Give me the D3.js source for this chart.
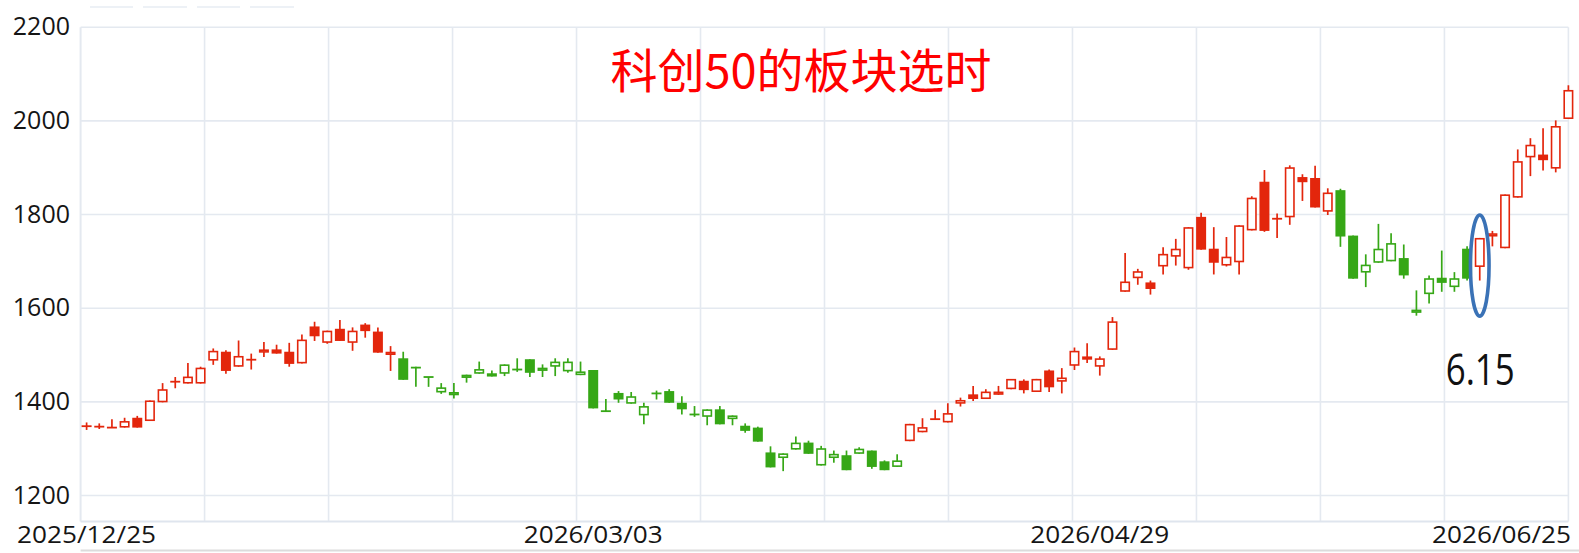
<!DOCTYPE html>
<html><head><meta charset="utf-8">
<script src="https://cdn.jsdelivr.net/npm/d3@7/dist/d3.min.js"></script>
<style>html,body{margin:0;padding:0;background:#fff;overflow:hidden}</style>
</head><body>
<svg id="chart" width="1579" height="553"></svg>
<script>
// ---------------- data ----------------
const dates = [
 "2025/12/25","2025/12/26","2025/12/29","2025/12/30","2025/12/31",
 "2026/01/05","2026/01/06","2026/01/07","2026/01/08","2026/01/09",
 "2026/01/12","2026/01/13","2026/01/14","2026/01/15","2026/01/16",
 "2026/01/19","2026/01/20","2026/01/21","2026/01/22","2026/01/23",
 "2026/01/26","2026/01/27","2026/01/28","2026/01/29","2026/01/30",
 "2026/02/02","2026/02/03","2026/02/04","2026/02/05","2026/02/06",
 "2026/02/09","2026/02/10","2026/02/11","2026/02/12","2026/02/13",
 "2026/02/24","2026/02/25","2026/02/26","2026/02/27",
 "2026/03/02","2026/03/03","2026/03/04","2026/03/05","2026/03/06",
 "2026/03/09","2026/03/10","2026/03/11","2026/03/12","2026/03/13",
 "2026/03/16","2026/03/17","2026/03/18","2026/03/19","2026/03/20",
 "2026/03/23","2026/03/24","2026/03/25","2026/03/26","2026/03/27",
 "2026/03/30","2026/03/31",
 "2026/04/01","2026/04/02","2026/04/03",
 "2026/04/07","2026/04/08","2026/04/09","2026/04/10",
 "2026/04/13","2026/04/14","2026/04/15","2026/04/16","2026/04/17",
 "2026/04/20","2026/04/21","2026/04/22","2026/04/23","2026/04/24",
 "2026/04/27","2026/04/28","2026/04/29","2026/04/30",
 "2026/05/06","2026/05/07","2026/05/08",
 "2026/05/11","2026/05/12","2026/05/13","2026/05/14","2026/05/15",
 "2026/05/18","2026/05/19","2026/05/20","2026/05/21","2026/05/22",
 "2026/05/25","2026/05/26","2026/05/27","2026/05/28","2026/05/29",
 "2026/06/01","2026/06/02","2026/06/03","2026/06/04","2026/06/05",
 "2026/06/08","2026/06/09","2026/06/10","2026/06/11","2026/06/12",
 "2026/06/15","2026/06/16","2026/06/17","2026/06/18",
 "2026/06/22","2026/06/23","2026/06/24","2026/06/25"
];
const openP  = [1348,1347,1345,1345,1366,1359,1399,1443,1439,1439,1488,1507,1475,1490,1505,1512,1507,1482,1561,1526,
                1556,1526,1565,1550,1500,1493,1475,1453,1420,1414,1451,1460,1461,1460,1469,1491,1466,1475,1465,1457,
                1468,1382,1419,1396,1371,1418,1423,1398,1373,1368,1384,1363,1349,1345,1292,1280,1298,1313,1264,1280,
                1286,1289,1296,1273,1261,1316,1335,1363,1356,1396,1416,1406,1415,1427,1445,1421,1467,1443,1477,1497,
                1475,1511,1635,1664,1655,1689,1710,1685,1795,1727,1691,1698,1766,1870,1791,1794,1880,1878,1806,1852,
                1755,1676,1697,1700,1707,1590,1630,1665,1645,1727,1688,1753,1728,1836,1922,1928,1898,2004];
const highP  = [1356,1354,1363,1366,1370,1403,1440,1453,1483,1475,1514,1510,1531,1503,1528,1522,1526,1544,1571,1552,
                1575,1559,1568,1559,1519,1507,1475,1453,1440,1440,1458,1486,1467,1480,1493,1491,1480,1493,1493,1486,
                1468,1406,1423,1421,1398,1424,1427,1412,1391,1384,1391,1371,1354,1347,1305,1290,1326,1317,1306,1296,
                1296,1303,1296,1275,1288,1353,1365,1383,1397,1409,1434,1427,1434,1449,1448,1449,1469,1472,1516,1525,
                1497,1581,1718,1684,1659,1730,1748,1773,1804,1773,1752,1777,1839,1895,1802,1905,1886,1904,1856,1855,
                1755,1715,1780,1760,1736,1638,1670,1723,1677,1732,1750,1765,1843,1939,1963,1984,2001,2076];
const lowP   = [1340,1342,1345,1345,1345,1359,1399,1429,1439,1439,1479,1460,1475,1469,1496,1503,1475,1482,1530,1524,
                1530,1509,1537,1505,1466,1447,1432,1432,1417,1407,1441,1460,1454,1455,1464,1453,1453,1455,1462,1457,
                1386,1379,1398,1396,1352,1405,1398,1373,1368,1350,1352,1350,1334,1315,1260,1252,1298,1289,1264,1270,
                1254,1289,1257,1254,1261,1316,1335,1363,1356,1390,1402,1406,1415,1427,1418,1421,1421,1418,1468,1483,
                1456,1511,1635,1650,1629,1672,1691,1682,1725,1672,1689,1672,1766,1763,1750,1778,1829,1815,1799,1731,
                1663,1645,1697,1700,1663,1584,1610,1635,1635,1659,1659,1732,1728,1836,1882,1894,1890,2004];
const closeP = [1348,1347,1345,1359,1345,1403,1427,1443,1454,1473,1509,1466,1498,1490,1512,1503,1481,1533,1540,1552,
                1530,1552,1551,1505,1507,1447,1473,1453,1431,1421,1458,1470,1454,1480,1469,1462,1473,1486,1486,1465,
                1386,1379,1405,1412,1391,1418,1398,1384,1373,1384,1352,1371,1338,1315,1260,1290,1313,1289,1301,1289,
                1254,1300,1261,1254,1275,1353,1346,1363,1376,1404,1406,1422,1422,1449,1425,1449,1431,1452,1509,1490,
                1493,1572,1657,1679,1641,1716,1727,1773,1725,1697,1710,1777,1836,1765,1791,1901,1869,1815,1847,1753,
                1663,1693,1727,1739,1670,1597,1664,1654,1664,1663,1750,1760,1843,1914,1949,1916,1989,2066];
// timing signal: 1 = bullish period (red), 0 = bearish period (green)
const signal = [1,1,1,1,1,1,1,1,1,1,1,1,1,1,1,1,1,1,1,1,1,1,1,1,1,
                0,0,0,0,0,0,0,0,0,0,0,0,0,0,0,0,0,0,0,0,0,0,0,0,0,0,0,0,0,0,0,0,0,0,0,0,0,0,0,0,
                1,1,1,1,1,1,1,1,1,1,1,1,1,1,1,1,1,1,1,1,1,1,1,1,1,1,1,1,1,1,1,1,1,1,
                0,0,0,0,0,0,0,0,0,0,0,
                1,1,1,1,1,1,1,1];
const yTicks = [1200,1400,1600,1800,2000,2200];
const xTickLabels = ["2025/12/25","2026/03/03","2026/04/29","2026/06/25"];
const titleText = "科创50的板块选时";
const markDate = "2026/06/15";
const markLabel = "6.15";
const markRange = [1583, 1799];

// ---------------- chart ----------------
const RED = "#e3260c", GREEN = "#36a716", GRID = "#e4e9f0";
const svg = d3.select("#chart");
const plot = {left: 80.6, right: 1568.4, top: 27.2, bottom: 521.6};
const x = d3.scaleLinear().domain([-0.474, dates.length - 1]).range([plot.left, plot.right]);
const y = d3.scaleLinear().domain([1200, 2200]).range([495.5, 27.2]);

// faint remnants at the very top
svg.append("g").selectAll("line").data([[90,133],[143,187],[197,240],[250,294]]).join("line")
  .attr("x1", d => d[0]).attr("x2", d => d[1]).attr("y1", 7).attr("y2", 7)
  .attr("stroke", "#edf1f6").attr("stroke-width", 2);

// grid
const grid = svg.append("g");
const nV = 12;
d3.range(nV + 1).forEach(k => {
  const gx = plot.left + k * (plot.right - plot.left) / nV;
  grid.append("line").attr("x1", gx).attr("x2", gx).attr("y1", plot.top).attr("y2", plot.bottom)
    .attr("stroke", GRID).attr("stroke-width", k === 0 ? 2 : 1.6);
});
yTicks.forEach(v => {
  grid.append("line").attr("x1", plot.left).attr("x2", plot.right).attr("y1", y(v)).attr("y2", y(v))
    .attr("stroke", GRID).attr("stroke-width", 1.6);
});
grid.append("line").attr("x1", plot.left).attr("x2", plot.right).attr("y1", plot.bottom).attr("y2", plot.bottom)
  .attr("stroke", "#dfe5ee").attr("stroke-width", 2);
svg.append("line").attr("x1", plot.left).attr("x2", 1579).attr("y1", 550.5).attr("y2", 550.5)
  .attr("stroke", "#dcdcdc").attr("stroke-width", 2);

// y labels
svg.append("g").selectAll("text").data(yTicks).join("text")
  .attr("x", 70).attr("y", d => y(d) + 8).attr("text-anchor", "end")
  .attr("font-family", "'Open Sans', 'Liberation Sans', sans-serif").attr("font-size", 25)
  .attr("fill", "#151515").text(d => d);

// x labels
svg.append("g").selectAll("text").data(xTickLabels).join("text")
  .attr("x", (d, i) => i === xTickLabels.length - 1 ? 1571 : x(dates.indexOf(d)))
  .attr("y", 543)
  .attr("text-anchor", (d, i) => i === xTickLabels.length - 1 ? "end" : "middle")
  .attr("font-family", "'Open Sans', 'Liberation Sans', sans-serif").attr("font-size", 24)
  .attr("textLength", 139).attr("lengthAdjust", "spacingAndGlyphs")
  .attr("fill", "#151515").text(d => d);

// candles
const idx = d3.range(dates.length);
const cg = svg.append("g");
const bodyW = 10;
cg.selectAll("line.wick").data(idx).join("line").attr("class", "wick")
  .attr("x1", i => x(i)).attr("x2", i => x(i))
  .attr("y1", i => y(highP[i])).attr("y2", i => y(lowP[i]))
  .attr("stroke", i => signal[i] ? RED : GREEN).attr("stroke-width", 1.7);
cg.selectAll("rect.body").data(idx).join("rect").attr("class", "body")
  .each(function(i) {
    const col = signal[i] ? RED : GREEN;
    const top = y(Math.max(openP[i], closeP[i]));
    const bot = y(Math.min(openP[i], closeP[i]));
    const hollow = closeP[i] >= openP[i];
    const el = d3.select(this);
    if (hollow) {
      const h = Math.max(bot - top, 0);
      if (h < 2) {
        el.attr("x", x(i) - bodyW / 2).attr("width", bodyW).attr("y", top - 0.9).attr("height", 1.8)
          .attr("fill", col);
      } else {
        el.attr("x", x(i) - bodyW / 2 + 0.8).attr("width", bodyW - 1.6)
          .attr("y", top + 0.8).attr("height", Math.max(h - 1.6, 0.5))
          .attr("fill", "#fff").attr("stroke", col).attr("stroke-width", 1.6);
      }
    } else {
      el.attr("x", x(i) - bodyW / 2).attr("width", bodyW)
        .attr("y", top).attr("height", Math.max(bot - top, 1.8)).attr("fill", col);
    }
  });

// title
svg.append("text").attr("x", 801).attr("y", 88).attr("text-anchor", "middle")
  .attr("font-family", "'Noto Sans CJK SC', sans-serif").attr("font-size", 47)
  .attr("fill", "#ff0000").text(titleText);

// annotation ellipse + label
const mi = dates.indexOf(markDate);
svg.append("ellipse")
  .attr("cx", x(mi)).attr("cy", (y(markRange[0]) + y(markRange[1])) / 2)
  .attr("rx", 9.3).attr("ry", (y(markRange[0]) - y(markRange[1])) / 2)
  .attr("fill", "none").attr("stroke", "#3a72b6").attr("stroke-width", 3.6);
svg.append("text").attr("x", x(mi) + 0.5).attr("y", 385).attr("text-anchor", "middle")
  .attr("font-family", "'Open Sans', 'Liberation Sans', sans-serif").attr("font-size", 44)
  .attr("textLength", 69).attr("lengthAdjust", "spacingAndGlyphs")
  .attr("fill", "#111").text(markLabel);
</script>
</body></html>
